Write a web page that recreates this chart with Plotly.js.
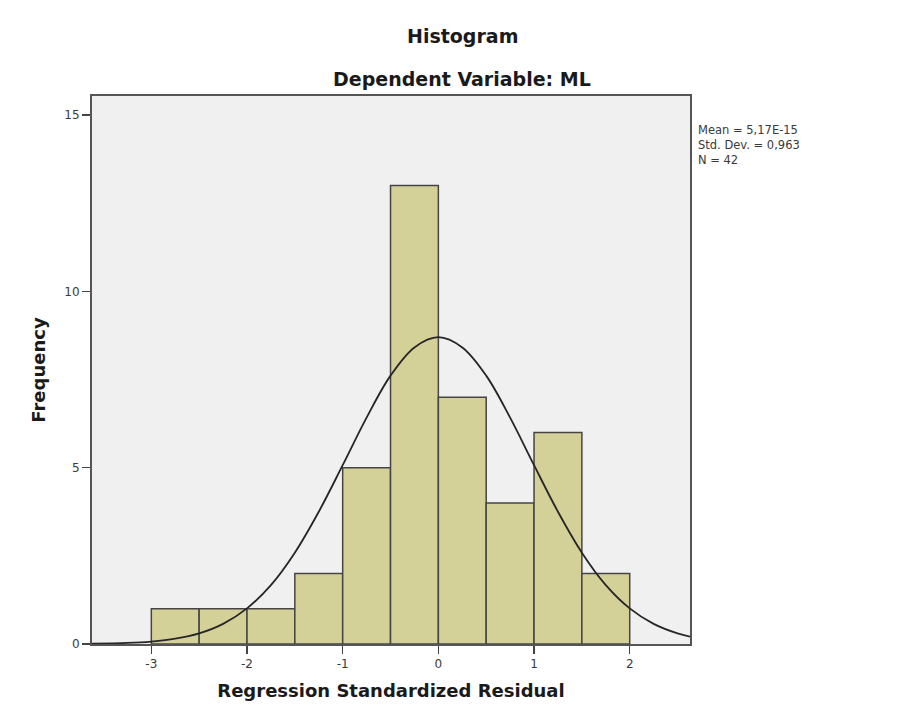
<!DOCTYPE html>
<html>
<head>
<meta charset="utf-8">
<script src="https://cdn.plot.ly/plotly-3.0.1.min.js"></script>
<style>
  html, body { margin: 0; padding: 0; background: #ffffff; }
  #chart { width: 910px; height: 715px; }
</style>
</head>
<body>
<div id="chart"></div>
<script>
// Residual histogram: bin edges (width 0.5) and counts per bin
const binLeft = [-3, -2.5, -2, -1.5, -1, -0.5, 0, 0.5, 1, 1.5];
const binWidth = 0.5;
const counts = [1, 1, 1, 2, 5, 13, 7, 4, 6, 2];

// Fitted normal curve (Mean = 5,17E-15, Std. Dev. = 0,963, N = 42), sampled points
const curveX = [-3.62, -3.25, -3, -2.75, -2.5, -2.25, -2, -1.75, -1.5, -1.25, -1, -0.75, -0.5, -0.25, 0,
                0.25, 0.5, 0.75, 1, 1.25, 1.5, 1.75, 2, 2.25, 2.5, 2.63];
const curveY = [0.01, 0.03, 0.07, 0.15, 0.30, 0.57, 1.01, 1.67, 2.59, 3.75, 5.07, 6.42, 7.61, 8.41, 8.70,
                8.41, 7.61, 6.42, 5.07, 3.75, 2.59, 1.67, 1.01, 0.57, 0.30, 0.21];

const statLines = ["Mean = 5,17E-15", "Std. Dev. = 0,963", "N = 42"];
const xTicks = [-3, -2, -1, 0, 1, 2];
const yTicks = [0, 5, 10, 15];

const barCenters = binLeft.map(v => v + binWidth / 2);

const bars = {
  type: 'bar',
  x: barCenters,
  y: counts,
  width: binLeft.map(() => binWidth),
  marker: { color: '#d3d098', line: { color: '#454545', width: 1.5 } },
  hoverinfo: 'skip'
};

const curve = {
  type: 'scatter',
  mode: 'lines',
  x: curveX,
  y: curveY,
  line: { color: '#262626', width: 1.8, shape: 'spline', smoothing: 1 },
  hoverinfo: 'skip'
};

const titleFont = { family: 'DejaVu Sans', size: 18, color: '#1a1a1a', weight: 'bold' };

const layout = {
  width: 910,
  height: 715,
  margin: { l: 92, r: 220, t: 96, b: 71 },
  paper_bgcolor: '#ffffff',
  plot_bgcolor: '#f0f0f0',
  showlegend: false,
  bargap: 0,
  font: { family: 'DejaVu Sans', size: 12, color: '#3a3a3a' },
  xaxis: {
    range: [-3.62, 2.63],
    tickvals: xTicks,
    ticktext: xTicks.map(String),
    ticks: 'outside',
    ticklen: 8,
    tickwidth: 1.5,
    tickcolor: '#444444',
    showgrid: false,
    zeroline: false,
    showline: true,
    mirror: true,
    linecolor: '#555555',
    linewidth: 2,
    tickfont: { family: 'DejaVu Sans', size: 12, color: '#3a3a3a' },
    title: { text: 'Regression Standardized Residual', font: titleFont, standoff: 14 },
    automargin: false
  },
  yaxis: {
    range: [0, 15.54],
    tickvals: yTicks,
    ticktext: yTicks.map(String),
    ticks: 'outside',
    ticklen: 8,
    tickwidth: 1.5,
    tickcolor: '#444444',
    showgrid: false,
    zeroline: false,
    showline: true,
    mirror: true,
    linecolor: '#555555',
    linewidth: 2,
    tickfont: { family: 'DejaVu Sans', size: 12, color: '#3a3a3a' },
    ticklabelstandoff: 0,
    title: { text: 'Frequency', font: titleFont, standoff: 14 },
    automargin: false
  },
  annotations: [
    {
      text: 'Histogram',
      xref: 'paper', yref: 'paper', x: 0.619, y: 1.109,
      xanchor: 'center', yanchor: 'middle', showarrow: false,
      font: { family: 'DejaVu Sans', size: 19, color: '#1a1a1a', weight: 'bold' }
    },
    {
      text: 'Dependent Variable: ML',
      xref: 'paper', yref: 'paper', x: 0.619, y: 1.031,
      xanchor: 'center', yanchor: 'middle', showarrow: false,
      font: { family: 'DejaVu Sans', size: 19, color: '#1a1a1a', weight: 'bold' }
    },
    {
      text: statLines.join('<br>'),
      xref: 'paper', yref: 'paper', x: 1.01, y: 0.955,
      xanchor: 'left', yanchor: 'top', align: 'left', showarrow: false,
      font: { family: 'DejaVu Sans', size: 11.5, color: '#3a3a3a' }
    }
  ]
};

Plotly.newPlot('chart', [bars, curve], layout, { displayModeBar: false, staticPlot: true });
</script>
</body>
</html>
